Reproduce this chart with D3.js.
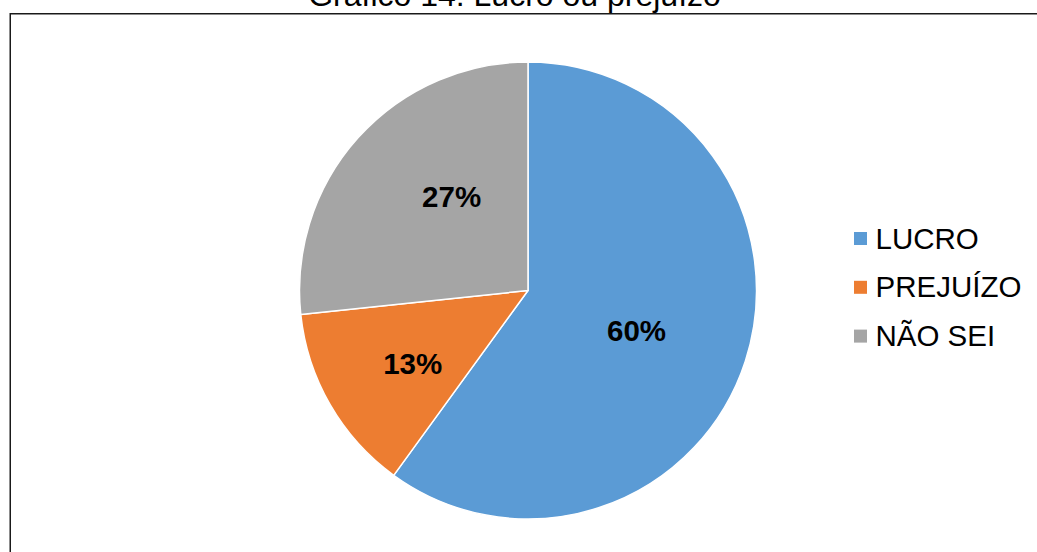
<!DOCTYPE html>
<html><head><meta charset="utf-8">
<script src="https://cdn.jsdelivr.net/npm/d3@7"></script>
<style>html,body{margin:0;padding:0;background:#fff;}svg{display:block;}</style>
</head><body>
<svg id="c" width="1037" height="552"></svg>
<script>
const title = "Gráfico 14: Lucro ou prejuízo";
const categories = ["LUCRO", "PREJUÍZO", "NÃO SEI"];
const values = [9, 2, 4];
const colors = ["#5B9BD5", "#ED7D31", "#A5A5A5"];

// layout-only nudges for the label placement (best-fit style)
const labelNudge = [[-11, 1], [-6.5, 10], [17, -10]];

const svg = d3.select("#c");
const font = "'Liberation Sans', Arial, sans-serif";

// frame
svg.append("rect").attr("x", 10.25).attr("y", 13.75).attr("width", 1200).attr("height", 700)
  .attr("fill", "none").attr("stroke", "#1a1a1a").attr("stroke-width", 1.5);

// title (partly cut by the top edge, as in the reference)
svg.append("text").attr("x", 514.5).attr("y", 6).attr("text-anchor", "middle")
  .attr("font-family", font).attr("font-size", 32).attr("fill", "#000").text(title);

const cx = 528, cy = 290.5, r = 228.5;
const total = d3.sum(values);
const pie = d3.pie().sort(null).value(d => d)(values);
const arc = d3.arc().innerRadius(0).outerRadius(r);
const labelArc = d3.arc().innerRadius(r * 0.55).outerRadius(r * 0.55);

const g = svg.append("g").attr("transform", `translate(${cx},${cy})`);
g.selectAll("path").data(pie).join("path")
  .attr("d", arc).attr("fill", (d, i) => colors[i])
  .attr("stroke", "#fff").attr("stroke-width", 1.5).attr("stroke-linejoin", "round");

g.selectAll("text").data(pie).join("text")
  .attr("transform", (d, i) => {
    const c = labelArc.centroid(d);
    return `translate(${c[0] + labelNudge[i][0]},${c[1] + labelNudge[i][1]})`;
  })
  .attr("text-anchor", "middle").attr("dy", "0.35em")
  .attr("font-family", font).attr("font-size", 29.5).attr("font-weight", "bold").attr("fill", "#000")
  .text(d => Math.round(d.value / total * 100) + "%");

// legend
const leg = svg.append("g").attr("transform", "translate(854,232)");
const rowH = 48.8;
const items = leg.selectAll("g").data(categories).join("g")
  .attr("transform", (d, i) => `translate(0,${i * rowH})`);
items.append("rect").attr("width", 13).attr("height", 13).attr("fill", (d, i) => colors[i]);
items.append("text").attr("x", 21.5).attr("y", 16.5)
  .attr("font-family", font).attr("font-size", 29.5).attr("fill", "#000").text(d => d);
</script>
</body></html>
